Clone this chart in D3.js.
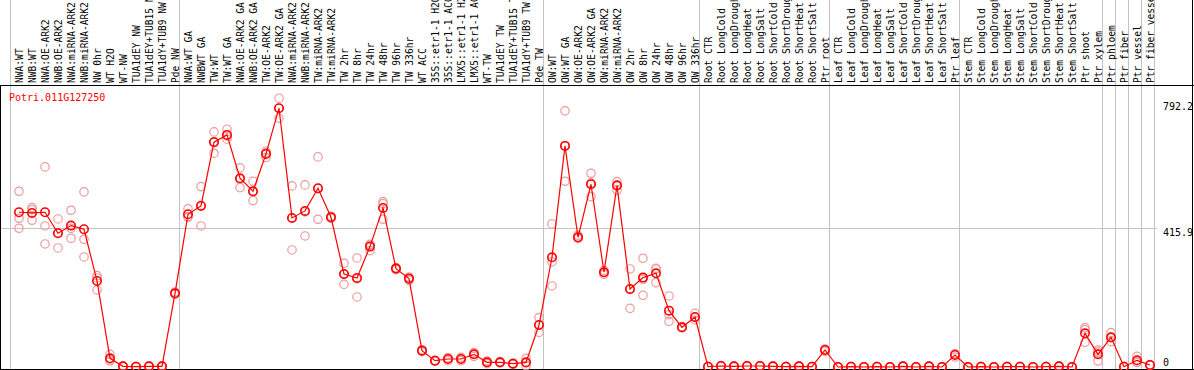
<!DOCTYPE html>
<html>
<head>
<meta charset="utf-8">
<script src="https://cdn.jsdelivr.net/npm/d3@7"></script>
<style>
body { margin: 0; background: #fff; }
text { font-family: "DejaVu Sans Mono", monospace; }
</style>
</head>
<body>
<div id="chart"></div>
<script>
// gene + sample names
var geneName = "Potri.011G127250";

var samples = [
  "NWA:WT", "NWB:WT", "NWA:OE-ARK2", "NWB:OE-ARK2", "NWA:miRNA-ARK2", "NWB:miRNA-ARK2",
  "NW 0hr", "WT H2O", "WT-NW", "TUA1dEY NW", "TUA1dEY+TUB15 NW", "TUA1dY+TUB9 NW", "Pde NW",
  "NWA:WT GA", "NWBWT GA", "TW:WT", "TW:WT GA", "NWA:OE-ARK2 GA", "NWB:OE-ARK2 GA",
  "TW:OE-ARK2", "TW:OE-ARK2 GA", "NWA:miRNA-ARK2", "NWB:miRNA-ARK2", "TW:miRNA-ARK2", "TW:miRNA-ARK2",
  "TW 2hr", "TW 8hr", "TW 24hr", "TW 48hr", "TW 96hr", "TW 336hr", "WT ACC",
  "35S::etr1-1 H2O", "35S::etr1-1 ACC", "LMX5::etr1-1 H2O", "LMX5::etr1-1 ACC",
  "WT-TW", "TUA1dEY TW", "TUA1dEY+TUB15 TW", "TUA1dY+TUB9 TW", "Pde TW",
  "OW:WT", "OW:WT GA", "OW:OE-ARK2", "OW:OE-ARK2 GA", "OW:miRNA-ARK2", "OW:miRNA-ARK2",
  "OW 2hr", "OW 8hr", "OW 24hr", "OW 48hr", "OW 96hr", "OW 336hr",
  "Root CTR", "Root LongCold", "Root LongDrought", "Root LongHeat", "Root LongSalt",
  "Root ShortCold", "Root ShortDrought", "Root ShortHeat", "Root ShortSalt", "Ptr root",
  "Leaf CTR", "Leaf LongCold", "Leaf LongDrought", "Leaf LongHeat", "Leaf LongSalt",
  "Leaf ShortCold", "Leaf ShortDrought", "Leaf ShortHeat", "Leaf ShortSalt", "Ptr leaf",
  "Stem CTR", "Stem LongCold", "Stem LongDrought", "Stem LongHeat", "Stem LongSalt",
  "Stem ShortCold", "Stem ShortDrought", "Stem ShortHeat", "Stem ShortSalt", "Ptr shoot", "Ptr xylem",
  "Ptr phloem", "Ptr fiber", "Ptr vessel", "Ptr fiber vessel"
];

// number of samples in each block (grey separators)
var groupSizes = [13, 28, 12, 10, 10, 11, 1, 1, 1, 1];

// mean expression per sample
var means = [
  464, 462, 464, 401, 424, 413, 258, 26, 2, 1, 2, 2, 221,
  458, 483, 674, 696, 566, 527, 639, 776, 447, 468, 536, 449,
  279, 267, 361, 477, 295, 265, 49, 19, 24, 24, 38, 14, 14, 10, 14, 126,
  329, 663, 389, 548, 284, 544, 234, 268, 281, 169, 119, 150,
  1, 3, 2, 3, 3, 2, 1, 2, 1, 51,
  0, 1, 0, 1, 0, 2, 0, 2, 0, 36,
  0, 1, 0, 1, 1, 0, 1, 2, 0, 101, 38,
  89, 1, 20, 6
];

// replicate values per sample
var reps = [
  [527, 446, 416], [478, 472, 440], [600, 423, 369], [444, 357, 402], [470, 386, 416], [525, 383, 330],
  [274, 267, 231], [38, 18, 22], [2, 1, 3], [1, 1, 1], [2, 1, 3], [2, 1, 3], [225, 218, 220],
  [474, 451, 449], [541, 423, 485], [705, 641, 676], [713, 683, 692], [597, 538, 563], [557, 499, 525],
  [647, 642, 628], [806, 746, 776], [543, 351, 447], [546, 393, 465], [630, 443, 535], [452, 446, 449],
  [311, 248, 278], [327, 210, 264], [366, 349, 368], [496, 490, 443], [298, 292, 295], [270, 260, 265],
  [52, 46, 49], [20, 18, 19], [28, 19, 25], [29, 19, 24], [43, 32, 39],
  [10, 18, 14], [12, 16, 14], [8, 12, 10], [26, 4, 12], [148, 104, 126],
  [429, 243, 315], [768, 557, 664], [395, 385, 387], [581, 511, 552], [290, 278, 284], [556, 530, 546],
  [294, 176, 232], [326, 215, 263], [296, 253, 294], [213, 137, 157], [121, 117, 119], [161, 141, 148],
  [1, 1, 1], [3, 2, 4], [2, 1, 3], [3, 2, 4], [3, 2, 4], [2, 1, 3], [1, 1, 1], [2, 1, 3], [1, 1, 1], [54, 47, 52],
  [0, 0, 0], [1, 1, 1], [0, 0, 0], [1, 1, 1], [0, 0, 0], [2, 1, 3], [0, 0, 0], [2, 1, 3], [0, 0, 0], [40, 30, 38],
  [0, 0, 0], [1, 1, 1], [0, 0, 0], [1, 1, 1], [1, 1, 1], [0, 0, 0], [1, 1, 1], [2, 1, 3], [0, 0, 0],
  [118, 112, 74], [51, 45, 18],
  [103, 88, 76], [1, 1, 1], [32, 14, 14], [6, 5, 7]
];

var yTicks = [0, 415.9, 792.2];
var gridValue = 415.9;

var fullwidth = 1194;
var fullheight = 370;
var headerH = 85;
var plotRight = 1157;

var svg = d3.select("#chart")
  .append("svg")
  .attr("width", fullwidth)
  .attr("height", fullheight);

var xScale = d3.scalePoint()
  .domain(d3.range(samples.length))
  .range([19, 1150]);

var yScale = d3.scaleLinear()
  .domain([0, 792.2])
  .range([367, 102.8]);

// separators between sample blocks
var bounds = [];
var start = 0;
groupSizes.forEach(function(n) {
  bounds.push(xScale(start) - 8.5);
  start += n;
});
bounds.push(xScale(samples.length - 1) + 4.5);

svg.append("g")
  .selectAll("line")
  .data(bounds)
  .enter()
  .append("line")
  .attr("x1", function(d) { return d; })
  .attr("x2", function(d) { return d; })
  .attr("y1", 0)
  .attr("y2", fullheight)
  .attr("stroke", "#c4c4c4")
  .attr("stroke-width", 1);

// horizontal grid
svg.append("line")
  .attr("x1", 1)
  .attr("x2", plotRight)
  .attr("y1", Math.round(yScale(gridValue)) + 0.5)
  .attr("y2", Math.round(yScale(gridValue)) + 0.5)
  .attr("stroke", "#c4c4c4");

// frame
svg.append("line").attr("x1", 0).attr("x2", fullwidth).attr("y1", headerH + 0.5).attr("y2", headerH + 0.5).attr("stroke", "#000");
svg.append("line").attr("x1", 0).attr("x2", fullwidth).attr("y1", 369.5).attr("y2", 369.5).attr("stroke", "#000");
svg.append("line").attr("x1", 0.5).attr("x2", 0.5).attr("y1", headerH).attr("y2", fullheight).attr("stroke", "#000");
svg.append("line").attr("x1", 1192.5).attr("x2", 1192.5).attr("y1", 0).attr("y2", fullheight).attr("stroke", "#000");

// sample labels in the header
svg.append("g")
  .selectAll("text")
  .data(samples)
  .enter()
  .append("text")
  .attr("transform", function(d, i) {
    return "translate(" + (xScale(i) + 3.5) + "," + 83 + ") rotate(-90)";
  })
  .attr("font-size", "9.6px")
  .attr("fill", "#000")
  .text(function(d) { return d; });

// right axis
var yAxis = d3.axisRight(yScale)
  .tickValues(yTicks)
  .tickSize(0)
  .tickPadding(6)
  .tickFormat(function(d) { return d === 0 ? "0" : d3.format(".1f")(d); });

var axisG = svg.append("g")
  .attr("transform", "translate(" + plotRight + ",0)")
  .call(yAxis);
axisG.select(".domain").remove();
axisG.selectAll("text")
  .attr("font-family", "DejaVu Sans Mono, monospace")
  .attr("font-size", "10px")
  .attr("fill", "#000")
  .attr("dy", function(d) { return d === 0 ? "-0.17em" : "0.7em"; });

// replicate circles
var repPts = [];
reps.forEach(function(r, i) {
  r.forEach(function(v) { repPts.push({ i: i, v: v }); });
});

svg.append("g")
  .selectAll("circle")
  .data(repPts)
  .enter()
  .append("circle")
  .attr("cx", function(d) { return xScale(d.i); })
  .attr("cy", function(d) { return yScale(d.v); })
  .attr("r", 4.2)
  .attr("fill", "none")
  .attr("stroke", "#ee9a9a")
  .attr("stroke-width", 1.2);

// mean line
var line = d3.line()
  .x(function(d, i) { return xScale(i); })
  .y(function(d) { return yScale(d); });

svg.append("path")
  .datum(means)
  .attr("d", line)
  .attr("fill", "none")
  .attr("stroke", "#ff0000")
  .attr("stroke-width", 1.2);

svg.append("g")
  .selectAll("circle")
  .data(means)
  .enter()
  .append("circle")
  .attr("cx", function(d, i) { return xScale(i); })
  .attr("cy", function(d) { return yScale(d); })
  .attr("r", 4.2)
  .attr("fill", "none")
  .attr("stroke", "#ff0000")
  .attr("stroke-width", 1.6);

// gene title
svg.append("text")
  .attr("x", 9)
  .attr("y", 101)
  .attr("font-size", "10px")
  .attr("fill", "#ff0000")
  .text(geneName);
</script>
</body>
</html>
